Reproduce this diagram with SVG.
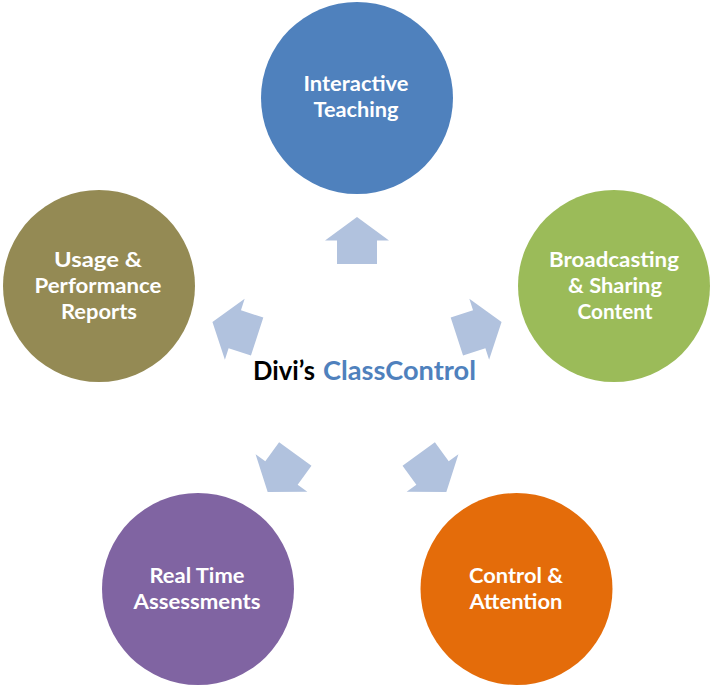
<svg xmlns="http://www.w3.org/2000/svg" xmlns:xlink="http://www.w3.org/1999/xlink" width="717" height="690" viewBox="0 0 717 690">
<style>
.lbl{font-family:Lato,"Open Sans","Liberation Sans",sans-serif;font-weight:bold;font-size:20px;fill:#ffffff;text-anchor:middle}
.title{font-family:Lato,"Open Sans","Liberation Sans",sans-serif;font-weight:bold;font-size:26px}
.arr{fill:#B1C2DE}
</style>
<defs>
<path id="arrow" d="M0,-152 L32,-128.5 L20,-128.5 L20,-105 L-20,-105 L-20,-128.5 L-32,-128.5 Z"/>
</defs>
<rect width="717" height="690" fill="#ffffff"/>
<g id="connectors" class="arr">
<use xlink:href="#arrow" transform="translate(357,369)"/>
<use xlink:href="#arrow" transform="translate(357,369) rotate(72)"/>
<use xlink:href="#arrow" transform="translate(357,369) rotate(144)"/>
<use xlink:href="#arrow" transform="translate(357,369) rotate(216)"/>
<use xlink:href="#arrow" transform="translate(357,369) rotate(288)"/>
</g>
<g id="node-interactive">
<circle cx="357" cy="98" r="96" fill="#4F81BD"/>
<text class="lbl" x="356" y="91" textLength="105" lengthAdjust="spacingAndGlyphs">Interactive</text>
<text class="lbl" x="356" y="117" textLength="85" lengthAdjust="spacingAndGlyphs">Teaching</text>
</g>
<g id="node-broadcasting">
<circle cx="614" cy="286" r="96" fill="#9BBB59"/>
<text class="lbl" x="614" y="267" textLength="130" lengthAdjust="spacingAndGlyphs">Broadcasting</text>
<text class="lbl" x="615" y="293" textLength="94" lengthAdjust="spacingAndGlyphs">&amp; Sharing</text>
<text class="lbl" x="615" y="319" textLength="75" lengthAdjust="spacingAndGlyphs">Content</text>
</g>
<g id="node-control">
<circle cx="516.5" cy="589" r="96" fill="#E46C0A"/>
<text class="lbl" x="516" y="583" textLength="94" lengthAdjust="spacingAndGlyphs">Control &amp;</text>
<text class="lbl" x="516" y="609" textLength="93" lengthAdjust="spacingAndGlyphs">Attention</text>
</g>
<g id="node-realtime">
<circle cx="198" cy="589" r="96" fill="#8064A2"/>
<text class="lbl" x="197" y="583" textLength="95" lengthAdjust="spacingAndGlyphs">Real Time</text>
<text class="lbl" x="197" y="609" textLength="127" lengthAdjust="spacingAndGlyphs">Assessments</text>
</g>
<g id="node-usage">
<circle cx="99" cy="286" r="96" fill="#948A54"/>
<text class="lbl" x="98" y="267" textLength="88" lengthAdjust="spacingAndGlyphs">Usage &amp;</text>
<text class="lbl" x="98" y="293" textLength="127" lengthAdjust="spacingAndGlyphs">Performance</text>
<text class="lbl" x="99" y="319" textLength="76" lengthAdjust="spacingAndGlyphs">Reports</text>
</g>
<g id="title">
<text class="title" x="253" y="380" fill="#000000" textLength="62" lengthAdjust="spacingAndGlyphs">Divi’s</text>
<text class="title" x="323" y="380" fill="#4F81BD" textLength="153" lengthAdjust="spacingAndGlyphs">ClassControl</text>
</g>
</svg>
